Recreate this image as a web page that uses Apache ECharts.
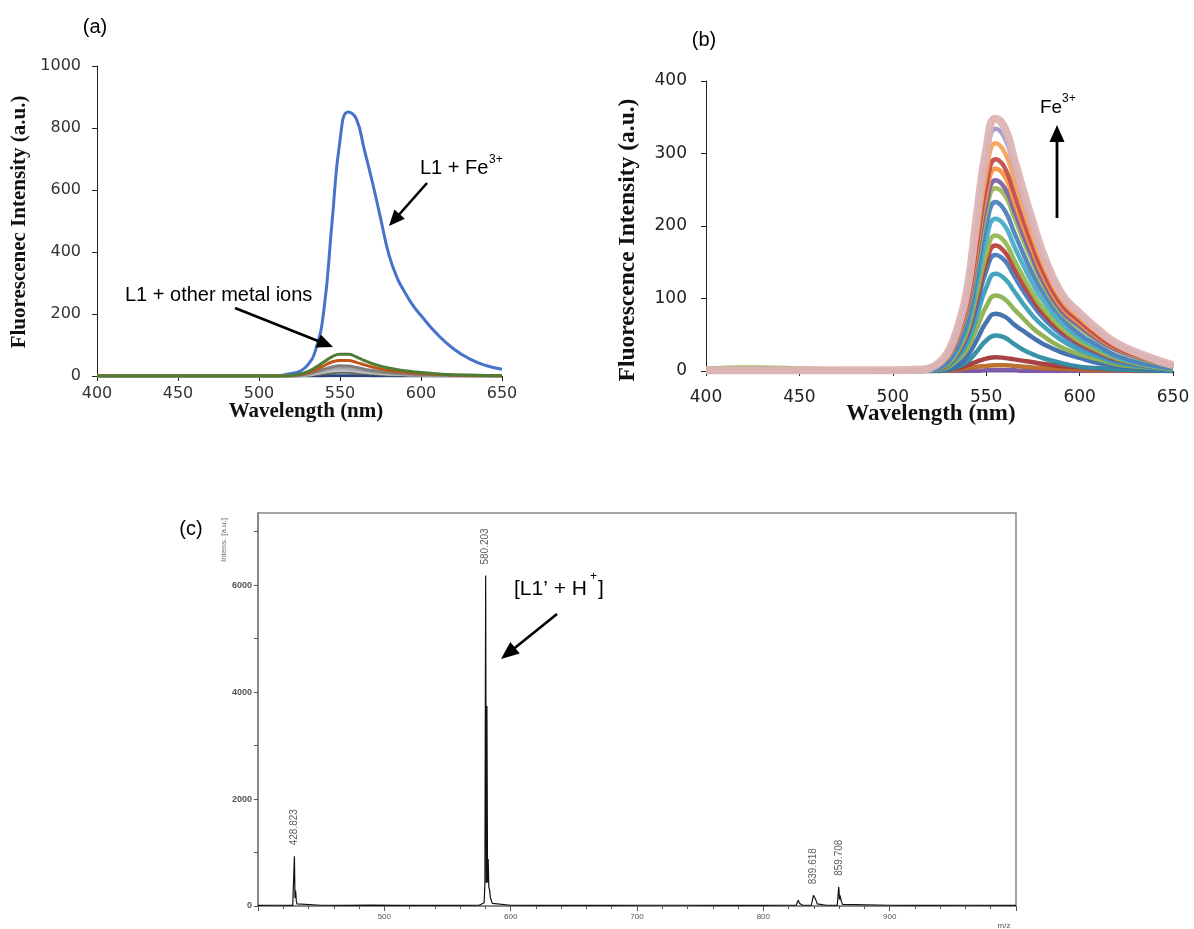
<!DOCTYPE html>
<html><head><meta charset="utf-8">
<script src="https://cdn.jsdelivr.net/npm/echarts@6/dist/echarts.min.js"></script>
<style>html,body{margin:0;padding:0;background:#fff}#c{width:1194px;height:929px}</style>
</head><body><div id="c"></div>
<script>
// ---------- Panel (a): L1 with different metal ions ----------
const wavelengthA = [400,450,500,510,515,520,525,530,535,540,545,550,555,560,565,570,575,580,585,590,595,600,610,620,630,640,650];
const a_Fe      = [0,0,0,0,3,8,15,35,85,210,490,760,852,830,730,625,510,395,320,270,228,195,135,88,55,34,22];
const a_navy    = [0,0,0,0,0,0,0,0,0,0,1,1,1,1,1,0,0,0,0,0,0,0,0,0,0,0,0];
const a_grayD2  = [0,0,0,0,0,0,1,2,4,7,10,12,12,10,8,7,5,4,3,3,2,2,1,1,0,0,0];
const a_grayL   = [0,0,0,0,0,0,1,3,7,12,16,18,18,15,12,10,8,6,5,4,3,3,2,1,1,0,0];
const a_grayM   = [0,0,0,0,0,0,2,5,11,17,23,26,25,21,17,14,11,9,7,6,5,4,2,1,1,0,0];
const a_grayD   = [0,0,0,0,0,1,3,7,14,22,29,33,32,28,22,18,14,11,9,7,6,5,3,2,1,1,0];
const a_orange  = [0,0,0,0,0,1,4,10,20,33,45,50,50,44,36,29,23,18,15,12,10,8,5,3,2,1,1];
const a_green   = [0,0,0,0,0,2,6,14,28,45,62,70,70,62,50,40,32,26,21,17,14,11,7,4,3,2,1];
const aSeriesData   = [a_Fe, a_navy, a_grayD2, a_grayL, a_grayM, a_grayD, a_orange, a_green];
const aSeriesColors = ['#4673C9','#264478','#636363','#BFBFBF','#A5A5A5','#7F7F7F','#C0561A','#4E7C33'];

// ---------- Panel (b): titration with Fe3+ ----------
const wavelengthB = [400,425,455,500,515,520,525,530,535,540,545,550,555,560,565,570,575,580,590,600,610,620,635,650];
const b01 = [0,0,0,0,0,0,0,0,0,0,0,1,1,1,1,0,0,0,0,0,0,0,0,0];
const b02 = [0,0,0,0,0,0,0,1,2,4,6,7,8,8,7,6,5,4,3,2,1,1,0,0];
const b03 = [0,0,0,0,0,0,1,2,4,8,13,17,19,18,16,14,12,10,7,5,3,2,1,0];
const b04 = [0,0,0,0,0,0,0,2,6,13,27,42,49,46,37,29,23,18,11,6,4,2,1,0];
const b05 = [0,0,0,0,0,0,1,3,9,21,43,67,79,75,64,55,46,38,26,18,11,7,3,1];
const b06 = [3,5,3,0,0,1,2,6,16,31,59,89,104,99,85,72,59,49,33,23,16,9,5,2];
const b07 = [0,0,0,0,0,1,3,8,20,40,76,115,134,127,110,92,76,63,43,29,20,12,6,2];
const b08 = [0,0,0,0,0,1,3,10,24,48,91,138,160,152,131,110,91,75,51,35,24,14,7,3];
const b09 = [0,0,0,0,0,1,3,10,26,52,99,149,173,164,142,119,99,81,55,38,26,16,8,3];
const b10 = [0,0,0,0,0,1,4,11,28,56,107,161,187,178,153,129,107,88,60,41,28,17,8,3];
const b11 = [0,0,0,0,0,1,4,13,32,63,120,181,210,200,172,145,120,99,67,46,32,19,9,4];
const b12 = [0,0,0,0,0,1,5,14,35,70,133,200,233,221,191,161,133,110,75,51,35,21,10,4];
const b13 = [0,0,0,0,1,3,9,20,45,83,151,219,252,242,212,179,149,121,81,59,42,28,15,6];
const b14 = [0,0,0,0,1,3,9,21,47,87,158,229,263,252,221,187,155,126,84,62,43,29,16,7];
const b15 = [0,0,0,0,1,3,10,22,50,92,167,243,279,268,234,198,165,134,89,66,46,31,17,7];
const b16 = [0,0,0,0,1,4,10,23,53,96,175,254,292,280,245,207,172,140,93,69,48,32,18,7];
const b17 = [0,0,0,0,1,4,11,25,57,104,188,273,314,301,264,223,185,151,100,74,52,35,19,8];
const b18 = [0,0,0,0,1,4,12,27,60,110,200,291,334,321,281,237,197,160,107,78,55,37,20,8];
const b19 = [1,1,1,1,2,4,12,28,62,115,215,305,348,335,292,247,205,165,108,80,57,38,21,8];
const bSeriesData = [b01,b02,b03,b04,b05,b06,b07,b08,b09,b10,b11,b12,b13,b14,b15,b16,b17,b18,b19];
const bSeriesColors = ['#7A56A6','#BA6A26','#A3393A','#2F8DA3','#3C6DAD','#8CAF4F','#3A9FB7','#4679BC','#B9403D',
                       '#95B853','#47ADC5','#4F81BD','#9BBB59','#8064A2','#F79646','#C0504D','#F9A25F','#A39BC9','#DDB4B4'];

// ---------- Panel (c): mass spectrum ----------
const msMz = [400,410,415.5,416,416.5,427.5,428.3,428.823,429.3,429.8,430.3,430.8,431.5,450,470,490,510,530,555,556,557,575,
  579,579.6,580.203,580.7,581.2,581.7,582.2,582.7,583.3,584,585.5,587,600,620,650,680,700,711.5,712,712.5,740,770,799,800,801,810,
  813,813.5,814,826,827.6,828.6,829.6,831,838,839.618,840.6,841.6,842.6,844,850,858.5,859.708,860.3,860.7,861.7,862.7,864,900,930,959,960.5,962,1000];
const msInt = [12,14,14,40,12,12,15,930,150,290,100,40,12,14,12,15,12,14,12,40,12,14,
  60,420,6180,430,3740,440,880,350,300,150,50,15,14,12,14,12,14,14,30,12,14,12,14,30,12,14,
  14,25,12,14,110,50,20,14,14,200,160,110,40,14,14,14,360,120,200,90,30,14,14,12,14,30,14,12];
const peakMz = [428.823, 580.203, 839.618, 859.708];
const peakInt = [930, 6180, 200, 360];
const peakText = ['428.823','580.203','839.618','859.708'];

// ---------- helpers ----------
const tickFont = 'DejaVu Sans';
function fluoX(gi, size, color, margin){
  return {type:'value', gridIndex:gi, min:400, max:650, interval:50,
    axisLine:{show:true, onZero:false, lineStyle:{color:'#222', width:1}},
    axisTick:{show:true, inside:false, length:5, lineStyle:{color:'#222'}},
    axisLabel:{fontFamily:tickFont, fontSize:size, color:color, margin:margin},
    splitLine:{show:false}};
}
function fluoY(gi, max, interval, size, color, margin){
  return {type:'value', gridIndex:gi, min:0, max:max, interval:interval,
    axisLine:{show:true, lineStyle:{color:'#222', width:1}},
    axisTick:{show:true, inside:false, length:5, lineStyle:{color:'#222'}},
    axisLabel:{fontFamily:tickFont, fontSize:size, color:color, margin:margin, formatter:(v)=>String(v)},
    splitLine:{show:false}};
}
function arrow(x1,y1,x2,y2,lw,hl,hw){
  const dx=x2-x1, dy=y2-y1, L=Math.hypot(dx,dy), ux=dx/L, uy=dy/L;
  const bx=x2-ux*hl, by=y2-uy*hl;
  return [
    {type:'line', z:100, shape:{x1:x1,y1:y1,x2:bx+ux*2,y2:by+uy*2}, style:{stroke:'#000', lineWidth:lw}},
    {type:'polygon', z:100, shape:{points:[[x2,y2],[bx-uy*hw,by+ux*hw],[bx+uy*hw,by-ux*hw]]}, style:{fill:'#000'}}
  ];
}
function txt(x,y,text,font,color,align,rot){
  return {type:'text', z:100, x:x, y:y, rotation:rot||0,
    style:{x:0,y:0,text:text, font:font, fill:color||'#000', align:align||'left', verticalAlign:'middle',
           textAlign:align||'left', textVerticalAlign:'middle'}};
}

const series = [];
aSeriesData.forEach((d,i)=>{
  series.push({type:'line', xAxisIndex:0, yAxisIndex:0, showSymbol:false, smooth:0.5,
    data: wavelengthA.map((x,k)=>[x,d[k]]), lineStyle:{color:aSeriesColors[i], width:3}, itemStyle:{color:aSeriesColors[i]}});
});
bSeriesData.forEach((d,i)=>{
  series.push({type:'line', xAxisIndex:1, yAxisIndex:1, showSymbol:false, smooth:0.5,
    data: wavelengthB.map((x,k)=>[x,d[k]]), lineStyle:{color:bSeriesColors[i], width: i===18 ? 8 : 4.5, opacity:0.95},
    itemStyle:{color:bSeriesColors[i]}});
});
series.push({type:'line', xAxisIndex:2, yAxisIndex:2, showSymbol:false, smooth:false,
  data: msMz.map((x,k)=>[x,msInt[k]]), lineStyle:{color:'#111', width:1.2}});
series.push({type:'scatter', xAxisIndex:2, yAxisIndex:2, symbolSize:0, silent:true,
  data: peakMz.map((x,k)=>({value:[x,peakInt[k]], name:peakText[k]})),
  label:{show:true, formatter:'{b}', position:'top', distance:11, rotate:90, align:'left', verticalAlign:'middle',
    fontFamily:'Liberation Sans', fontSize:10, color:'#333'}});

const option = {
  animation:false,
  backgroundColor:'#fff',
  grid:[
    {left:97, top:66, width:405, height:310},
    {left:706, top:81, width:467, height:290},
    {left:258, top:513, width:758, height:393, show:true, borderColor:'#888', borderWidth:1.5, backgroundColor:'transparent'}
  ],
  xAxis:[
    fluoX(0,16,'#333',10),
    fluoX(1,17,'#222',18),
    {type:'value', gridIndex:2, min:400, max:1000, interval:100,
      axisLine:{show:true, onZero:false, lineStyle:{color:'#808080', width:1.5}},
      axisTick:{show:true, length:5, lineStyle:{color:'#555'}},
      minorTick:{show:true, splitNumber:5, length:3, lineStyle:{color:'#555'}},
      axisLabel:{fontFamily:'Liberation Sans', fontSize:8, color:'#555', margin:7, showMinLabel:false, showMaxLabel:false},
      splitLine:{show:false}}
  ],
  yAxis:[
    fluoY(0,1000,200,16,'#333',16),
    fluoY(1,400,100,17,'#222',19),
    {type:'value', gridIndex:2, min:0, max:7350, interval:1000,
      axisLine:{show:true, lineStyle:{color:'#808080', width:1.5}},
      axisTick:{show:true, length:4, lineStyle:{color:'#555'}},
      axisLabel:{fontFamily:'Liberation Sans', fontSize:9, fontWeight:'bold', color:'#555', margin:6, showMaxLabel:false,
        formatter:(v)=> (v % 2000 === 0 ? String(v) : '')},
      splitLine:{show:false}}
  ],
  series: series,
  graphic:{elements:[].concat(
    [txt(95,27,'(a)','20px Liberation Sans','#000','center')],
    [txt(704,40,'(b)','20px Liberation Sans','#000','center')],
    [txt(191,529,'(c)','20px Liberation Sans','#000','center')],
    [txt(20,222,'Fluorescenec Intensity (a.u.)','bold 21px Liberation Serif','#111','center',Math.PI/2)],
    [txt(306,412,'Wavelength (nm)','bold 21px Liberation Serif','#111','center')],
    [txt(628,240,'Fluorescence Intensity (a.u.)','bold 23.5px Liberation Serif','#111','center',Math.PI/2)],
    [txt(931,414,'Wavelength (nm)','bold 23px Liberation Serif','#111','center')],
    [txt(420,168,'L1 + Fe','20px Liberation Sans','#000','left')],
    [txt(489,160,'3+','12px Liberation Sans','#000','left')],
    arrow(427,183,389,226,2.6,16,7),
    [txt(125,295,'L1 + other metal ions','20px Liberation Sans','#000','left')],
    arrow(235,308,333,347,2.6,16,7),
    [txt(1040,108,'Fe','19px Liberation Sans','#000','left')],
    [txt(1062,99,'3+','12px Liberation Sans','#000','left')],
    arrow(1057,218,1057,125,2.8,17,7.5),
    [txt(514,589,'[L1\u2019 + H','21px Liberation Sans','#000','left')],
    [txt(590,577,'+','12px Liberation Sans','#000','left')],
    [txt(598,589,']','21px Liberation Sans','#000','left')],
    arrow(557,614,501,659,2.6,18,7.5),
    [txt(224,540,'Intens. [a.u.]','8px Liberation Sans','#7a6a5a','center',Math.PI/2)],
    [txt(1004,926,'m/z','8px Liberation Sans','#555','center')]
  )}
};
const chart = echarts.init(document.getElementById('c'), null, {renderer:'canvas', width:1194, height:929});
chart.setOption(option);
</script>
</body></html>
